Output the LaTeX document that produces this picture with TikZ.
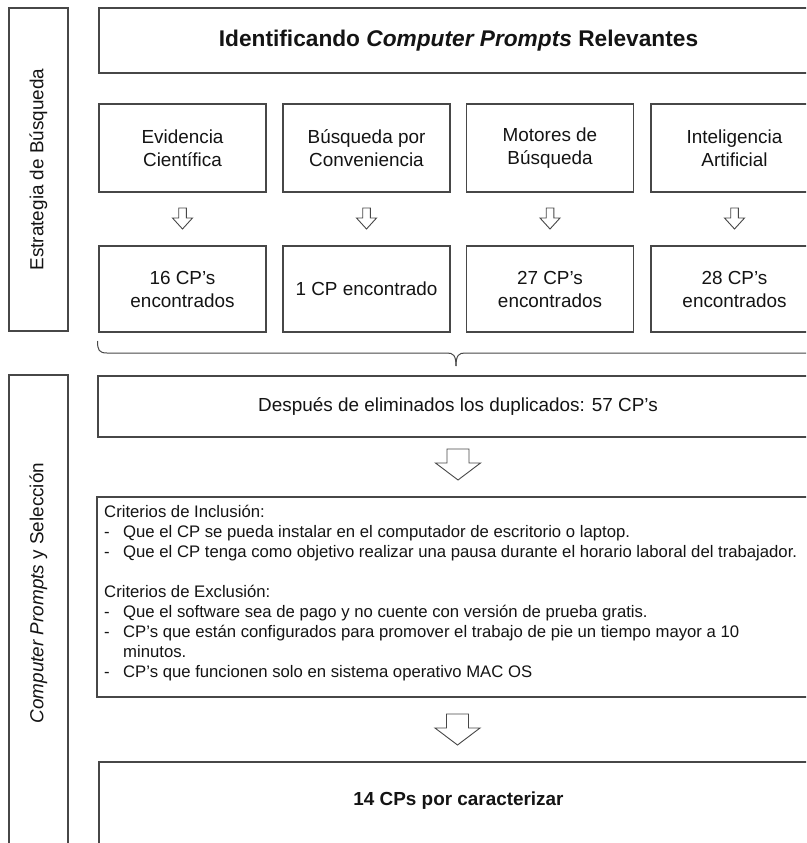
\documentclass[tikz,border=0pt]{standalone}
\usepackage{fontspec}
\setmainfont{Liberation Sans}
\usetikzlibrary{calc}
\definecolor{linecol}{gray}{0.28}
\definecolor{txtcol}{gray}{0.08}
\begin{document}
\begin{tikzpicture}[x=1pt,y=-1pt,
  every node/.style={text=txtcol},
  frame/.style={draw=linecol, line width=1.2pt, rectangle, inner sep=0pt, outer sep=0pt, fill=white},
  bodyfont/.style={font=\fontsize{18.9}{23}\selectfont},
  colbox/.style={frame, bodyfont, minimum width=167pt, align=center},
  srcbox/.style={colbox, minimum height=88pt},
  resbox/.style={colbox, minimum height=86pt},
  widebox/.style={frame, minimum width=720pt},
  sidebar/.style={frame, minimum width=59pt},
  sidetext/.style={bodyfont, rotate=90, inner sep=0pt},
  arrline/.style={draw=linecol, line width=0.9pt, fill=white},
  smallarr/.pic={\draw[arrline] (-3.8,0) -- (3.8,0) -- (3.8,10) -- (10,10) -- (0,21) -- (-10,10) -- (-3.8,10) -- cycle;},
  bigarr/.pic={\draw[arrline] (-11,0) -- (11,0) -- (11,14) -- (22.5,14) -- (0,31) -- (-22.5,14) -- (-11,14) -- cycle;},
  critfont/.style={font=\fontsize{16.7}{20}\selectfont}
]
\useasboundingbox (0,0) rectangle (806,843);
\clip (0,0) rectangle (806,843);
\fill[white] (0,0) rectangle (806,843);

% side bars
\node[sidebar, minimum height=323pt] (bar1) at (38.5,169.5) {};
\node[sidetext] (bar1t) at (bar1.center) {Estrategia de Búsqueda};
\node[sidebar, minimum height=495pt] (bar2) at (38.5,622.5) {};
\node[sidetext] (bar2t) at (38.5,593) {\textit{Computer Prompts} y Selección};

% title
\node[widebox, line width=1.5pt, minimum width=719pt, minimum height=65pt,
      font=\fontsize{22.7}{27}\selectfont\bfseries] (title) at (458.5,40.5)
      {Identificando \textit{Computer Prompts} Relevantes};

% sources
\node[srcbox] (s1) at (182.5,148) {Evidencia\\Científica};
\node[srcbox] (s2) at (366.5,148) {Búsqueda por\\Conveniencia};
\node[srcbox] (s3) at (550,148) {Motores de\\Búsqueda};
\node[srcbox] (s4) at (734.5,148) {Inteligencia\\Artificial};

% results
\node[resbox] (r1) at (182.5,289) {16 CP’s\\encontrados};
\node[resbox] (r2) at (366.5,289) {1 CP encontrado};
\node[resbox] (r3) at (550,289) {27 CP’s\\encontrados};
\node[resbox] (r4) at (734.5,289) {28 CP’s\\encontrados};

% small arrows
\foreach \i in {1,2,3,4} {
  \pic at ($(s\i.south)+(0,16)$) {smallarr};
}

% brace
\draw[linecol, line width=1pt] (97.5,341) .. controls (97.5,350) and (99,353) .. (107,353) -- (447,353)
   .. controls (453,353) and (456,355) .. (456,366);
\draw[linecol, line width=1pt] (456,366) .. controls (456,355) and (459,353) .. (465,353) -- (820,353);

% after duplicates
\node[widebox, bodyfont, minimum height=61pt] (desp) at (458,406.5)
      {Después de eliminados los duplicados: 57 CP’s};
\pic at ($(desp.south)+(0,12)$) {bigarr};

% criteria
\node[widebox, minimum width=721pt, minimum height=200pt] (crit) at (457.5,597) {};
\node[critfont, anchor=north west, align=left, inner sep=0pt] (critt) at (104,505)
{Criterios de Inclusión:\\
\makebox[19pt][l]{-}Que el CP se pueda instalar en el computador de escritorio o laptop.\\
\makebox[19pt][l]{-}Que el CP tenga como objetivo realizar una pausa durante el horario laboral del trabajador.\\[20pt]
Criterios de Exclusión:\\
\makebox[19pt][l]{-}Que el software sea de pago y no cuente con versión de prueba gratis.\\
\makebox[19pt][l]{-}CP’s que están configurados para promover el trabajo de pie un tiempo mayor a 10\\
\hspace*{19pt}minutos.\\
\makebox[19pt][l]{-}CP’s que funcionen solo en sistema operativo MAC OS};
\pic at ($(crit.south)+(0,17)$) {bigarr};

% final
\node[widebox, minimum width=719pt, minimum height=100pt] (final) at (458.5,812) {};
\node[bodyfont, font=\fontsize{18.9}{23}\selectfont\bfseries] (finalt) at ($(final.north)+(0,39)$) {14 CPs por caracterizar};
\end{tikzpicture}
\end{document}
